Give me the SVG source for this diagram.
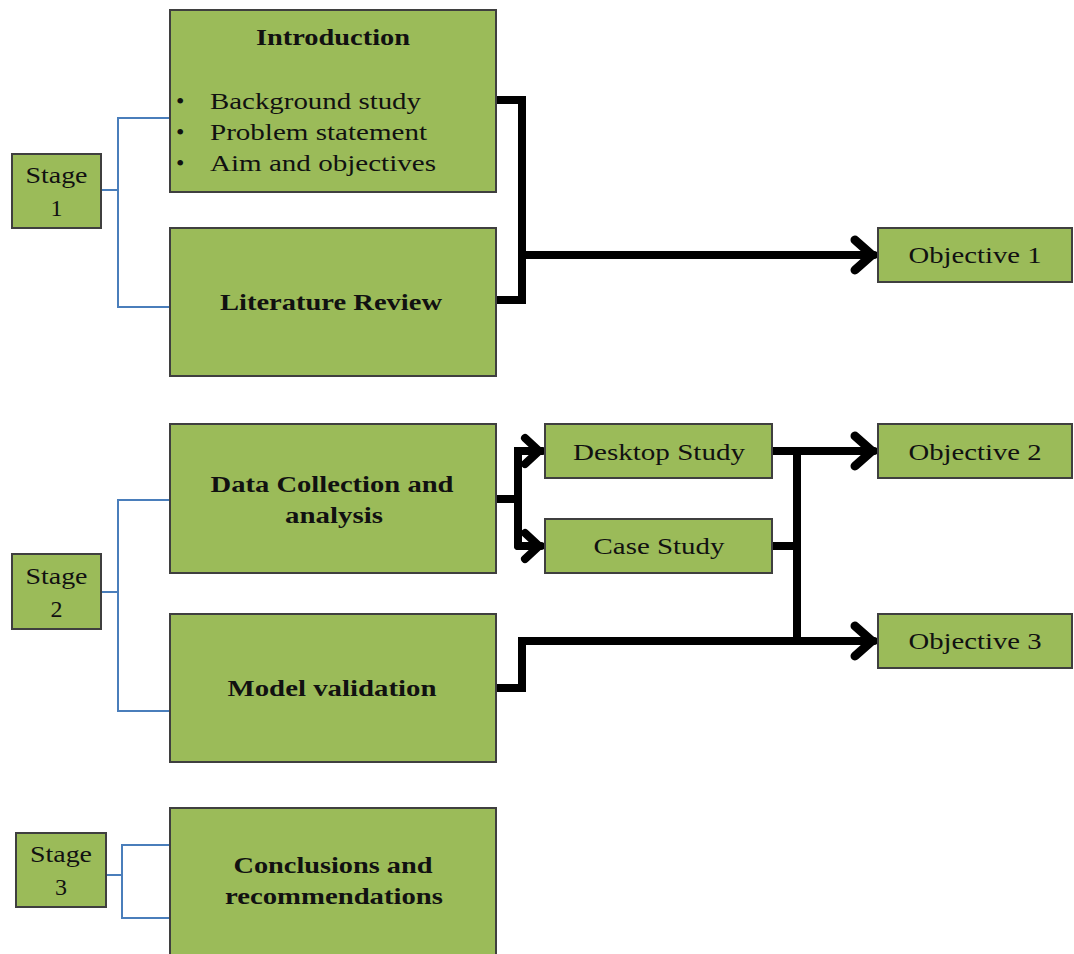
<svg xmlns="http://www.w3.org/2000/svg" width="1074" height="954" viewBox="0 0 1074 954">
  <style>
    .box { fill: #9BBB59; stroke: #3F3F3F; stroke-width: 2; }
    .txt { font-family: "Liberation Serif", "Times New Roman", serif; font-size: 24px; fill: #111; }
    .b { font-weight: bold; }
    .mid { text-anchor: middle; }
    .bracket { fill: none; stroke: #4A7EBB; stroke-width: 2; }
    .flow { fill: none; stroke: #000; stroke-width: 8; stroke-linecap: round; stroke-linejoin: miter; }
  </style>
  <defs>
    <marker id="chev" markerUnits="userSpaceOnUse" markerWidth="40" markerHeight="40" viewBox="-30 -20 40 40" refX="0" refY="0" orient="auto" overflow="visible">
      <path d="M-19,-15 L-2,0 L-19,15" fill="none" stroke="#000" stroke-width="9" stroke-linecap="round" stroke-linejoin="round"/>
    </marker>
    <marker id="chev-sm" markerUnits="userSpaceOnUse" markerWidth="40" markerHeight="40" viewBox="-30 -20 40 40" refX="0" refY="0" orient="auto" overflow="visible">
      <path d="M-16,-13 L-2,0 L-16,13" fill="none" stroke="#000" stroke-width="8" stroke-linecap="round" stroke-linejoin="round"/>
    </marker>
  </defs>

  <rect width="1074" height="954" fill="#fff"/>

  <!-- stage brackets -->
  <g id="brackets">
    <path class="bracket" d="M101,190 H118 M170,118 H118 V307 H170"/>
    <path class="bracket" d="M101,592 H118 M170,500 H118 V711 H170"/>
    <path class="bracket" d="M106,875 H122 M170,845 H122 V918 H170"/>
  </g>

  <!-- flow connectors -->
  <g id="connectors">
    <path class="flow" d="M496,100 H522 V300 H496"/>
    <path class="flow" d="M522,255 H874" marker-end="url(#chev)"/>

    <path class="flow" d="M496,499 H518"/>
    <path class="flow" d="M542,451 H518 V546"/>
    <path class="flow" d="M518,451 H541" marker-end="url(#chev-sm)"/>
    <path class="flow" d="M518,546 H541" marker-end="url(#chev-sm)"/>

    <path class="flow" d="M772,451 H874" marker-end="url(#chev)"/>
    <path class="flow" d="M772,546 H797"/>
    <path class="flow" d="M797,451 V641" style="stroke-linecap:butt"/>
    <path class="flow" d="M496,688 H522 V641 H874" marker-end="url(#chev)"/>
  </g>

  <!-- stage 1 -->
  <g id="stage1">
    <rect class="box" x="12" y="154" width="89" height="74"/>
    <text class="txt mid" x="56.5" y="183" textLength="62" lengthAdjust="spacingAndGlyphs">Stage</text>
    <text class="txt mid" x="56.5" y="216">1</text>
  </g>
  <g id="introduction">
    <rect class="box" x="170" y="10" width="326" height="182"/>
    <text class="txt b mid" x="333" y="45" textLength="154" lengthAdjust="spacingAndGlyphs">Introduction</text>
    <text class="txt" x="176" y="109">•</text>
    <text class="txt" x="176" y="140">•</text>
    <text class="txt" x="176" y="171">•</text>
    <text class="txt" x="210" y="109" textLength="211" lengthAdjust="spacingAndGlyphs">Background study</text>
    <text class="txt" x="210" y="140" textLength="217" lengthAdjust="spacingAndGlyphs">Problem statement</text>
    <text class="txt" x="210" y="171" textLength="226" lengthAdjust="spacingAndGlyphs">Aim and objectives</text>
  </g>
  <g id="literature">
    <rect class="box" x="170" y="228" width="326" height="148"/>
    <text class="txt b mid" x="331" y="310" textLength="222" lengthAdjust="spacingAndGlyphs">Literature Review</text>
  </g>
  <g id="objective1">
    <rect class="box" x="878" y="228" width="194" height="54"/>
    <text class="txt mid" x="975" y="263" textLength="133" lengthAdjust="spacingAndGlyphs">Objective 1</text>
  </g>

  <!-- stage 2 -->
  <g id="stage2">
    <rect class="box" x="12" y="554" width="89" height="75"/>
    <text class="txt mid" x="56.5" y="584" textLength="62" lengthAdjust="spacingAndGlyphs">Stage</text>
    <text class="txt mid" x="56.5" y="617">2</text>
  </g>
  <g id="data-collection">
    <rect class="box" x="170" y="424" width="326" height="149"/>
    <text class="txt b mid" x="332" y="492" textLength="243" lengthAdjust="spacingAndGlyphs">Data Collection and</text>
    <text class="txt b mid" x="334" y="523" textLength="98" lengthAdjust="spacingAndGlyphs">analysis</text>
  </g>
  <g id="model-validation">
    <rect class="box" x="170" y="614" width="326" height="148"/>
    <text class="txt b mid" x="332" y="696" textLength="209" lengthAdjust="spacingAndGlyphs">Model validation</text>
  </g>
  <g id="desktop-study">
    <rect class="box" x="545" y="424" width="227" height="54"/>
    <text class="txt mid" x="659" y="460" textLength="172" lengthAdjust="spacingAndGlyphs">Desktop Study</text>
  </g>
  <g id="case-study">
    <rect class="box" x="545" y="519" width="227" height="54"/>
    <text class="txt mid" x="659" y="554" textLength="131" lengthAdjust="spacingAndGlyphs">Case Study</text>
  </g>
  <g id="objective2">
    <rect class="box" x="878" y="424" width="194" height="54"/>
    <text class="txt mid" x="975" y="460" textLength="133" lengthAdjust="spacingAndGlyphs">Objective 2</text>
  </g>
  <g id="objective3">
    <rect class="box" x="878" y="614" width="194" height="54"/>
    <text class="txt mid" x="975" y="649" textLength="133" lengthAdjust="spacingAndGlyphs">Objective 3</text>
  </g>

  <!-- stage 3 -->
  <g id="stage3">
    <rect class="box" x="16" y="833" width="90" height="74"/>
    <text class="txt mid" x="61" y="862" textLength="62" lengthAdjust="spacingAndGlyphs">Stage</text>
    <text class="txt mid" x="61" y="895">3</text>
  </g>
  <g id="conclusions">
    <rect class="box" x="170" y="808" width="326" height="160"/>
    <text class="txt b mid" x="333" y="873" textLength="199" lengthAdjust="spacingAndGlyphs">Conclusions and</text>
    <text class="txt b mid" x="334" y="904" textLength="218" lengthAdjust="spacingAndGlyphs">recommendations</text>
  </g>
</svg>
